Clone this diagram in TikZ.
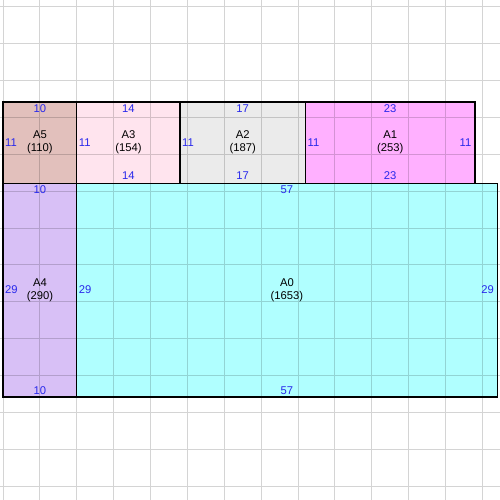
\documentclass[tikz,border=0pt]{standalone}
\usepackage{fontspec}
\setmainfont{Liberation Sans}
\definecolor{numblue}{RGB}{40,40,235}
\definecolor{colA0}{RGB}{176,255,255}
\definecolor{colA1}{RGB}{255,176,255}
\definecolor{colA2}{RGB}{235,235,235}
\definecolor{colA3}{RGB}{255,228,238}
\definecolor{colA4}{RGB}{216,192,246}
\definecolor{colA5}{RGB}{226,192,188}
\begin{document}
\begin{tikzpicture}[x=0.1475cm, y=0.1475cm,
    font=\fontsize{6.4}{7.2}\selectfont,
    part/.style={draw=black, line width=0.6pt},
    side/.style={text=numblue, inner sep=0pt},
    partname/.style={align=center, inner sep=0pt}]
    \useasboundingbox (-0.41,-13.97) rectangle (67.39,53.83);
    \fill[white] (-0.41,-13.97) rectangle (67.39,53.83);
        % fills
        \fill[colA5] (0,29) rectangle (10,40);
        \fill[colA3] (10,29) rectangle (24,40);
        \fill[colA2] (24,29) rectangle (41,40);
        \fill[colA1] (41,29) rectangle (64,40);
        \fill[colA4] (0,0) rectangle (10,29);
        \fill[colA0] (10,0) rectangle (67,29);
        % background grid
        \draw[black, opacity=0.17, line width=0.57pt, step=0.7375cm, shift={(0,2.9)}] (-1,-17) grid (68,51);
        % outlines
        \draw[part] (0,29) rectangle (10,40);
        \draw[part] (10,29) rectangle (24,40);
        \draw[part] (24,29) rectangle (41,40);
        \draw[part] (41,29) rectangle (64,40);
        \draw[part] (0,0) rectangle (10,29);
        \draw[part] (10,0) rectangle (67,29);
        % A5
        \node[partname] (nameA5) at (5,34.5) {A5\\(110)};
        \node[side] (topA5) at (5,39.05) {10};
        \node[side, anchor=west] (leftA5) at (0.25,34.5) {11};
        % A3
        \node[partname] (nameA3) at (17,34.5) {A3\\(154)};
        \node[side] (topA3) at (17,39.05) {14};
        \node[side] (botA3) at (17,29.95) {14};
        \node[side, anchor=west] (leftA3) at (10.25,34.5) {11};
        % A2
        \node[partname] (nameA2) at (32.5,34.5) {A2\\(187)};
        \node[side] (topA2) at (32.5,39.05) {17};
        \node[side] (botA2) at (32.5,29.95) {17};
        \node[side, anchor=west] (leftA2) at (24.25,34.5) {11};
        % A1
        \node[partname] (nameA1) at (52.5,34.5) {A1\\(253)};
        \node[side] (topA1) at (52.5,39.05) {23};
        \node[side] (botA1) at (52.5,29.95) {23};
        \node[side, anchor=west] (leftA1) at (41.25,34.5) {11};
        \node[side, anchor=east] (rightA1) at (63.55,34.5) {11};
        % A4
        \node[partname] (nameA4) at (5,14.5) {A4\\(290)};
        \node[side] (topA4) at (5,28.05) {10};
        \node[side] (botA4) at (5,0.9) {10};
        \node[side, anchor=west] (leftA4) at (0.25,14.5) {29};
        % A0
        \node[partname] (nameA0) at (38.5,14.5) {A0\\(1653)};
        \node[side] (topA0) at (38.5,28.05) {57};
        \node[side] (botA0) at (38.5,0.9) {57};
        \node[side, anchor=west] (leftA0) at (10.25,14.5) {29};
        \node[side, anchor=east] (rightA0) at (66.6,14.5) {29};
    \end{tikzpicture}
\end{document}
